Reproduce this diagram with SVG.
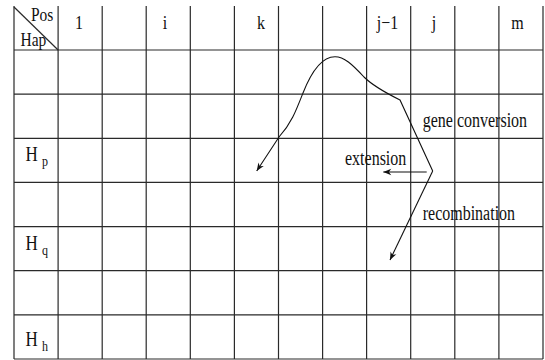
<svg xmlns="http://www.w3.org/2000/svg" width="545" height="360" viewBox="0 0 545 360">
<style>
.g{stroke:#2a2a2a;stroke-width:1.2;fill:none}
.t{font-family:"Liberation Serif","Times New Roman",serif;font-size:16px;fill:#111}
.h{font-family:"Liberation Serif","Times New Roman",serif;font-size:17px;fill:#111}
.s{font-family:"Liberation Serif","Times New Roman",serif;font-size:12px;fill:#111}
.c{stroke:#111;stroke-width:1.1;fill:none}
</style>
<defs>
<marker id="arr" viewBox="0 0 10 10" refX="10" refY="5" markerUnits="userSpaceOnUse" markerWidth="10" markerHeight="8" orient="auto">
<path d="M0,1 L10,5 L0,9 L3,5 z" fill="#111"/>
</marker>
</defs>
<rect width="545" height="360" fill="#fff"/>
<g id="grid" class="g">
<path d="M14,6V359 M58.1,6V359 M102.2,6V359 M146.2,6V359 M190.3,6V359 M234.4,6V359 M278.5,6V359 M322.6,6V359 M366.6,6V359 M410.7,6V359 M454.8,6V359 M498.9,6V359 M543,6V359"/>
<path d="M14,50H543 M14,94.1H543 M14,138.3H543 M14,182.4H543 M14,226.6H543 M14,270.7H543 M14,314.9H543 M14,359H543"/>
<path d="M14,7L58.1,50"/>
</g>
<g id="header">
<text class="t" transform="translate(31 21) scale(1 1.25)" style="font-size:15.5px">Pos</text>
<text class="t" transform="translate(20.5 46) scale(1 1.25)" style="font-size:15.5px">Hap</text>
<text class="t" text-anchor="middle" transform="translate(79 29) scale(1 1.2)">1</text>
<text class="t" text-anchor="middle" transform="translate(165 29) scale(1 1.2)">i</text>
<text class="t" text-anchor="middle" transform="translate(261 29) scale(1 1.2)">k</text>
<text class="t" text-anchor="middle" transform="translate(387.5 29) scale(1 1.2)">j−1</text>
<text class="t" text-anchor="middle" transform="translate(434 29) scale(1 1.2)">j</text>
<text class="t" text-anchor="middle" transform="translate(517.5 29) scale(1 1.2)">m</text>
</g>
<g id="Hp"><text class="h" transform="translate(25.5 161) scale(1 1.25)">H</text><text class="s" transform="translate(42 166) scale(1 1.25)">p</text></g>
<g id="Hq"><text class="h" transform="translate(25.5 249.5) scale(1 1.25)">H</text><text class="s" transform="translate(42 254.5) scale(1 1.25)">q</text></g>
<g id="Hh"><text class="h" transform="translate(25.5 346) scale(1 1.25)">H</text><text class="s" transform="translate(42 351) scale(1 1.25)">h</text></g>
<g id="connectors">
<path class="c" marker-end="url(#arr)" d="M432.7,171 L400,100 C386,93 373,86 364,77 C352,64 344,56.7 335,56.7 C322,56.7 312,70 303,93 C296,111 291,124 279,137 L256.7,171"/>
<path class="c" marker-end="url(#arr)" d="M432.7,171 L390,260"/>
<path class="c" marker-end="url(#arr)" d="M426.7,172 L383.3,172"/>
</g>
<g id="labels">
<text class="t" transform="translate(422.7 127) scale(1 1.25)">gene conversion</text>
<text class="t" transform="translate(345 165) scale(1 1.25)">extension</text>
<text class="t" transform="translate(422.7 220) scale(1 1.25)">recombination</text>
</g>
</svg>
